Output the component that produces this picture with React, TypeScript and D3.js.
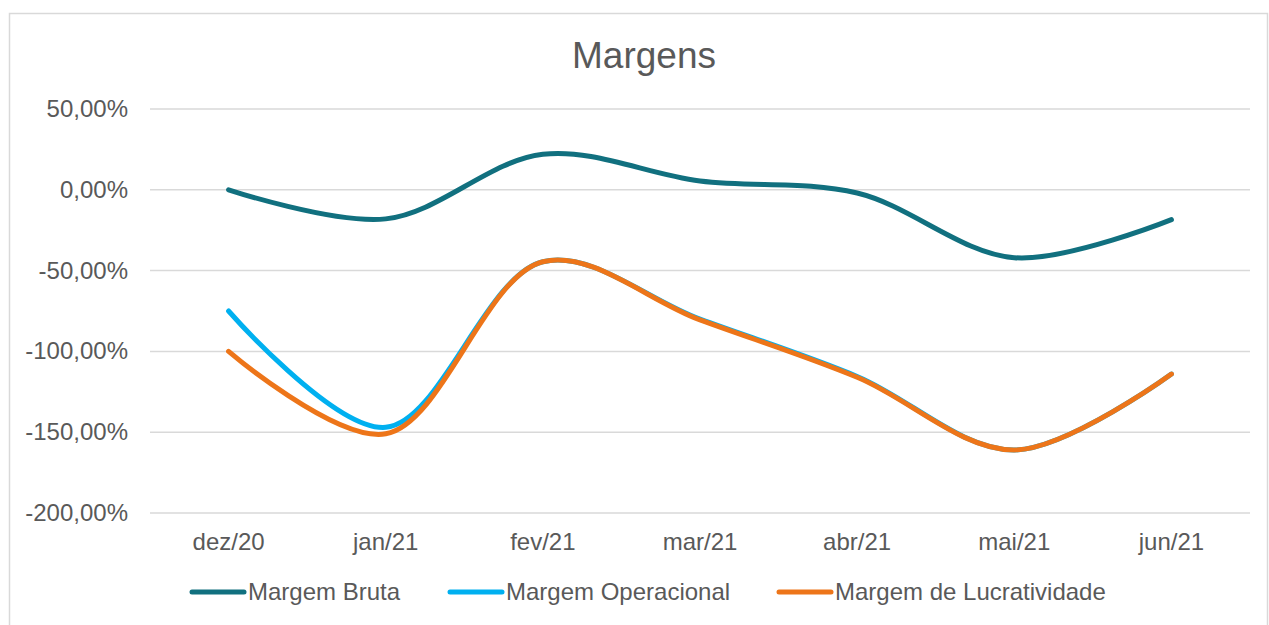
import React, { useEffect, useRef } from 'react';
import * as d3 from 'd3';

const categories = ['dez/20', 'jan/21', 'fev/21', 'mar/21', 'abr/21', 'mai/21', 'jun/21'];
const margemBruta = [0, -18, 22, 5.5, -2, -42, -18.5];
const margemOperacional = [-75, -147, -44.5, -80, -115.5, -161, -114];
const margemLucratividade = [-100, -151, -44.5, -80.5, -116, -161, -114];
const yTicks = [50, 0, -50, -100, -150, -200];

const seriesList = [
  { name: 'Margem Bruta', values: margemBruta, color: '#11707F' },
  { name: 'Margem Operacional', values: margemOperacional, color: '#00B0F0' },
  { name: 'Margem de Lucratividade', values: margemLucratividade, color: '#ED7519' },
];

export default function App() {
  const ref = useRef<SVGSVGElement | null>(null);

  useEffect(() => {
    const el = ref.current;
    if (!el) return;
    const svg = d3.select(el);
    svg.selectAll('*').remove();

    const font = '"Liberation Sans", Arial, sans-serif';
    const textColor = '#595959';
    const plot = { left: 150, right: 1250, top: 109, bottom: 513 };

    // chart border
    svg.append('rect')
      .attr('x', 9.5).attr('y', 13.5)
      .attr('width', 1258).attr('height', 640)
      .attr('fill', '#fff').attr('stroke', '#d9d9d9').attr('stroke-width', 1.5);

    const x = d3.scaleBand()
      .domain(categories)
      .range([plot.left, plot.right]);

    const y = d3.scaleLinear()
      .domain([-200, 50])
      .range([plot.bottom, plot.top]);

    // gridlines
    svg.append('g')
      .selectAll('line')
      .data(yTicks)
      .enter()
      .append('line')
      .attr('x1', plot.left).attr('x2', plot.right)
      .attr('y1', d => y(d)).attr('y2', d => y(d))
      .attr('stroke', '#d9d9d9').attr('stroke-width', 1.5);

    // y labels
    svg.append('g')
      .selectAll('text')
      .data(yTicks)
      .enter()
      .append('text')
      .attr('x', 128)
      .attr('y', d => y(d) + 8)
      .attr('text-anchor', 'end')
      .attr('font-family', font)
      .attr('font-size', 24)
      .attr('fill', textColor)
      .text(d => d.toFixed(2).replace('.', ',') + '%');

    // x labels
    svg.append('g')
      .selectAll('text')
      .data(categories)
      .enter()
      .append('text')
      .attr('x', d => (x(d) as number) + x.bandwidth() / 2)
      .attr('y', 550)
      .attr('text-anchor', 'middle')
      .attr('font-family', font)
      .attr('font-size', 24)
      .attr('fill', textColor)
      .text(d => d);

    const line = d3.line<number>()
      .x((_, i) => (x(categories[i]) as number) + x.bandwidth() / 2)
      .y(d => y(d))
      .curve(d3.curveCatmullRom.alpha(0.5));

    seriesList.forEach(s => {
      svg.append('path')
        .attr('d', line(s.values))
        .attr('fill', 'none')
        .attr('stroke', s.color)
        .attr('stroke-width', 5)
        .attr('stroke-linecap', 'round')
        .attr('stroke-linejoin', 'round');
    });

    // title
    svg.append('text')
      .attr('x', 644).attr('y', 68)
      .attr('text-anchor', 'middle')
      .attr('font-family', font)
      .attr('font-size', 37)
      .attr('fill', textColor)
      .text('Margens');

    // legend
    const legendTextX = [248, 506, 835];
    seriesList.forEach((s, i) => {
      const g = svg.append('g').attr('transform', `translate(${legendTextX[i]},592)`);
      g.append('line')
        .attr('x1', -56).attr('x2', -4)
        .attr('y1', 0).attr('y2', 0)
        .attr('stroke', s.color).attr('stroke-width', 5)
        .attr('stroke-linecap', 'round');
      g.append('text')
        .attr('x', 0).attr('y', 8)
        .attr('font-family', font)
        .attr('font-size', 24)
        .attr('fill', textColor)
        .text(s.name);
    });
  }, []);

  return (
    <svg
      ref={ref}
      width={1269}
      height={625}
      style={{ position: 'absolute', left: 0, top: 0, display: 'block' }}
    />
  );
}
